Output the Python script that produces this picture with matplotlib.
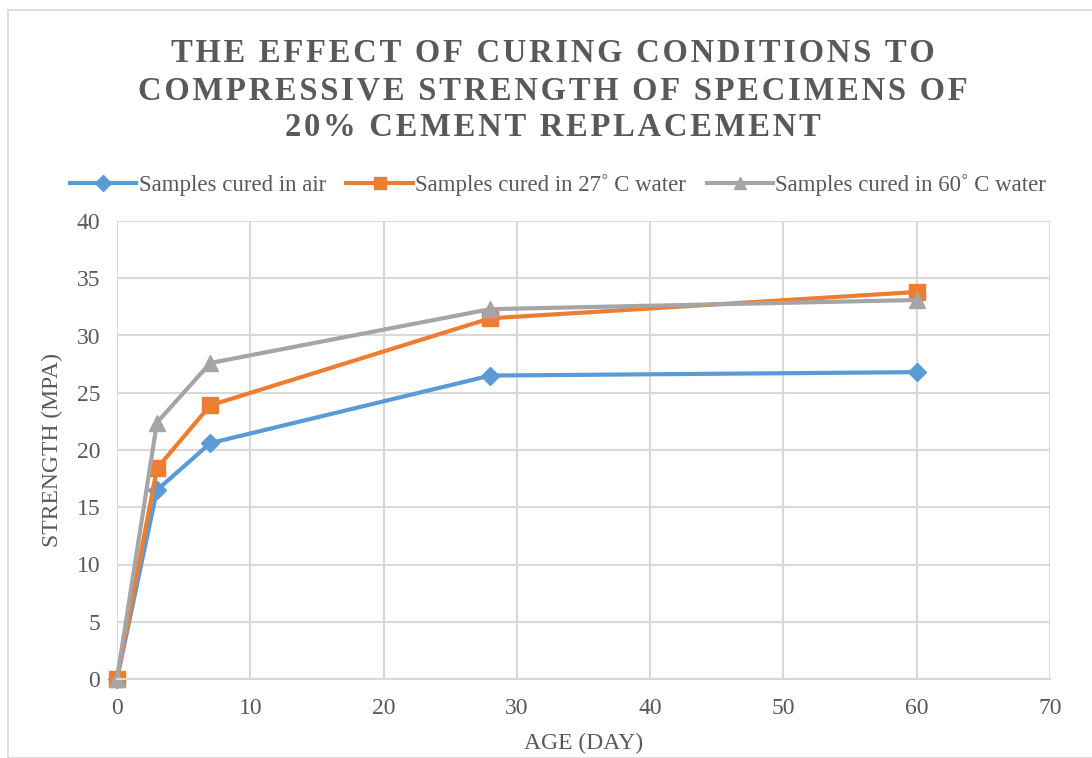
import matplotlib.pyplot as plt
from matplotlib.patches import Rectangle

# datos
edad = [0, 3, 7, 28, 60]
aire = [0, 16.5, 20.6, 26.5, 26.8]
agua_27 = [0, 18.4, 23.9, 31.5, 33.8]
agua_60 = [0, 22.4, 27.6, 32.3, 33.1]

series = [
    ("Samples cured in air", aire, "#5b9bd5", "D", 9),
    ("Samples cured in 27\u02da C water", agua_27, "#ed7d31", "s", 11),
    ("Samples cured in 60\u02da C water", agua_60, "#a5a5a5", "^", 11),
]

plt.rcParams["font.family"] = ["Liberation Serif", "DejaVu Serif"]
gris = "#595959"

fig = plt.figure(figsize=(10.92, 7.58), dpi=100)
ax = fig.add_axes([117 / 1092, 1 - 679 / 758, (1050 - 117) / 1092, (679 - 221) / 758])

for nombre, vals, color, marca, tam in series:
    ax.plot(edad, vals, color=color, lw=3, marker=marca, ms=tam, label=nombre, clip_on=False)

ax.set_xlim(0, 70)
ax.set_ylim(0, 40)
ax.set_xticks(range(0, 71, 10))
ax.set_yticks(range(0, 41, 5))
ax.grid(True, color="#d9d9d9", lw=1.5)
ax.set_axisbelow(True)
for lado in ["top", "right", "left"]:
    ax.spines[lado].set_visible(False)
ax.spines["bottom"].set_color("#d9d9d9")
ax.spines["bottom"].set_linewidth(1.5)
ax.tick_params(length=0, labelsize=17, colors=gris)
ax.tick_params(axis="x", pad=14)
ax.tick_params(axis="y", pad=12)

ax.set_xlabel("AGE (DAY)", fontsize=17, color=gris, labelpad=10)
ax.set_ylabel("STRENGTH (MPA)", fontsize=17, color=gris, labelpad=10)

titulo = ["THE EFFECT OF CURING CONDITIONS TO",
          "COMPRESSIVE STRENGTH OF SPECIMENS OF",
          "20% CEMENT REPLACEMENT"]
for i, linea in enumerate(titulo):
    fig.text(553 / 1092, 1 - (54 + i * 37) / 758, "\u200a".join(linea),
             ha="center", va="center", fontsize=23.5, fontweight="bold", color=gris)

ax.legend(loc="center", bbox_to_anchor=(558 / 1092, (758 - 185) / 758), bbox_transform=fig.transFigure,
          ncol=3, frameon=False, fontsize=16.5, labelcolor=gris, handlelength=2.9,
          columnspacing=0.9, handletextpad=0.1, markerscale=0.85)

fig.patches.append(Rectangle((8 / 1092, 0), 1.5, 1 - 10 / 758, transform=fig.transFigure,
                             fill=False, ec="#d9d9d9", lw=1.2))

fig.savefig("out.png", dpi=100)
